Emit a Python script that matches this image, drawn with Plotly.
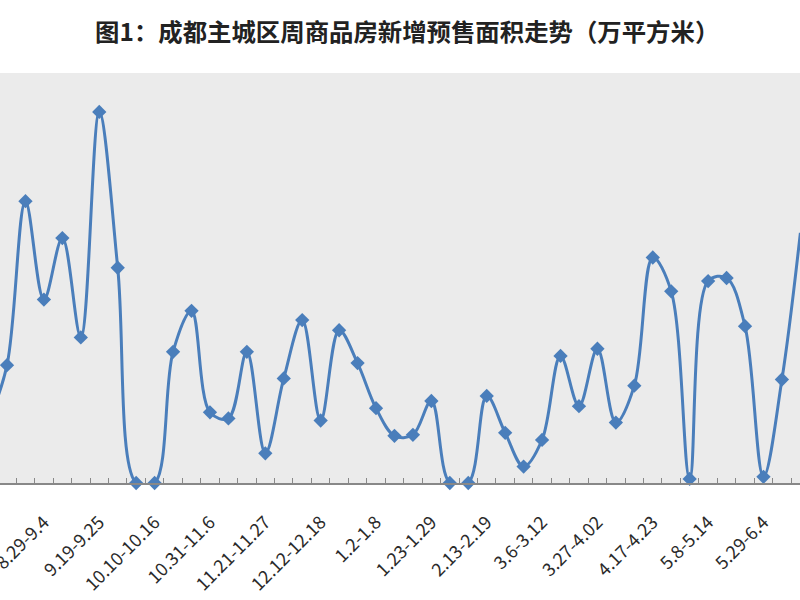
import plotly.graph_objects as go

weeks = [
    "8.8-8.14", "8.15-8.21", "8.22-8.28", "8.29-9.4", "9.5-9.11", "9.12-9.18",
    "9.19-9.25", "9.26-10.2", "10.3-10.9", "10.10-10.16", "10.17-10.23", "10.24-10.30",
    "10.31-11.6", "11.7-11.13", "11.14-11.20", "11.21-11.27", "11.28-12.4", "12.5-12.11",
    "12.12-12.18", "12.19-12.25", "12.26-1.1", "1.2-1.8", "1.9-1.15", "1.16-1.22",
    "1.23-1.29", "1.30-2.5", "2.6-2.12", "2.13-2.19", "2.20-2.26", "2.27-3.5",
    "3.6-3.12", "3.13-3.19", "3.20-3.26", "3.27-4.02", "4.03-4.09", "4.10-4.16",
    "4.17-4.23", "4.24-4.30", "5.1-5.7", "5.8-5.14", "5.15-5.21", "5.22-5.28",
    "5.29-6.4", "6.5-6.11", "6.12-6.18",
]
area = [
    6.0, 11.5, 27.5, 17.9, 23.9, 14.2,
    36.2, 21.0, 0.0, 0.0, 12.8, 16.8,
    6.9, 6.3, 12.8, 2.9, 10.2, 15.9,
    6.1, 14.9, 11.7, 7.3, 4.6, 4.7,
    8.0, 0.0, 0.0, 8.5, 4.9, 1.6,
    4.2, 12.4, 7.5, 13.1, 5.9, 9.5,
    22.0, 18.7, 0.4, 19.7, 20.0, 15.3,
    0.6, 10.1, 24.4,
]
label_every = 3
label_start = 3

idx = list(range(len(weeks)))
tickvals = idx[label_start::label_every]
ticktext = weeks[label_start::label_every]

title = "图1：成都主城区周商品房新增预售面积走势（万平方米）"
blue = "#4a7ebb"

fig = go.Figure(
    go.Scatter(
        x=idx, y=area, mode="lines+markers",
        line=dict(color=blue, width=3, shape="spline", smoothing=1),
        marker=dict(symbol="diamond", size=11, color=blue),
        cliponaxis=False, hoverinfo="skip",
    )
)

fig.update_layout(
    width=800, height=600,
    margin=dict(l=0, r=0, t=73, b=117),
    paper_bgcolor="white",
    plot_bgcolor="#ebebeb",
    showlegend=False,
    title=dict(
        text=title, x=0.509, xanchor="center", y=1 - 32 / 600, yanchor="middle",
        yref="container",
        font=dict(family="Noto Sans CJK SC", size=24.4, color="#222222", weight="bold"),
    ),
    xaxis=dict(
        range=[0.62, 43.98],
        tickmode="array", tickvals=tickvals, ticktext=ticktext,
        tickangle=-45, ticks="", showgrid=False, zeroline=False,
        showline=True, linecolor="#888888", linewidth=1.5,
        tickfont=dict(family="Noto Sans CJK SC", size=18, color="#2a2a2a"),
        ticklabelstandoff=20, automargin=False, ticklabeloverflow="allow",
        minor=dict(ticks="inside", ticklen=5, tickcolor="#888888", tick0=0.5, dtick=1,
                   showgrid=False),
    ),
    yaxis=dict(range=[0, 40], showgrid=False, zeroline=False, showticklabels=False,
               ticks="", showline=False),
)

fig.write_html("out.html", config={"displayModeBar": False},
               post_script="document.body.style.margin='0';")
